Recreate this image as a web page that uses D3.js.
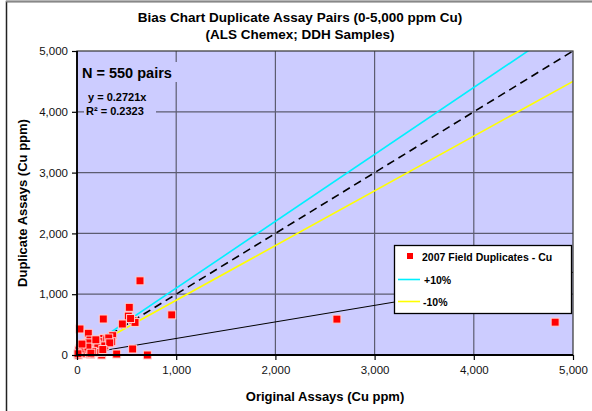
<!DOCTYPE html>
<html><head><meta charset="utf-8">
<script src="https://cdn.jsdelivr.net/npm/d3@7/dist/d3.min.js"></script>
<style>body{margin:0;background:#fff}svg{display:block}text{font-family:"Liberation Sans",Arial,sans-serif}</style>
</head><body><svg id="c" width="592" height="411"></svg>
<script>
const titleLines = ["Bias Chart Duplicate Assay Pairs (0-5,000 ppm Cu)", "(ALS Chemex; DDH Samples)"];
const xTicks = [0, 1000, 2000, 3000, 4000, 5000];
const yTicks = [0, 1000, 2000, 3000, 4000, 5000];
const seriesName = "2007 Field Duplicates - Cu";
const origAssays = [635, 955, 2620, 4820, 527, 265, 517, 565, 457, 585, 540, 30, 114, 360, 265, 232, 131, 98, 181, 350, 30, 561, 13, 138, 249, 400, 709, 60, 80, 150, 200, 170, 120, 300, 320, 90, 45, 210, 280, 20, 70, 160, 240, 330, 10, 110, 190, 50, 140, 260];
const dupAssays  = [1220, 660, 590, 540, 784, 592, 640, 565, 510, 536, 600, 428, 357, 318, 273, 219, 247, 192, 126, 219, 110, 99, 0, 11, 0, 16, 0, 60, 150, 90, 180, 40, 200, 250, 280, 20, 30, 120, 150, 80, 100, 60, 40, 200, 20, 130, 250, 180, 30, 90];
const slope = 0.2721, r2 = 0.2323, nPairs = 550;
const plusPct = 1.1, minusPct = 0.9;

const svg = d3.select("#c");
const W = 592, H = 411;
const m = {l: 77, r: 19, t: 51, b: 56};
const x = d3.scaleLinear().domain([0, 5000]).range([m.l, W - m.r]);
const y = d3.scaleLinear().domain([0, 5000]).range([H - m.b, m.t]);

// outer border
svg.append("rect").attr("x", 6.5).attr("y", 1.5).attr("width", 700).attr("height", 700)
  .attr("fill", "#fff").attr("stroke", "#222").attr("stroke-width", 1.5);
svg.append("line").attr("x1", 6).attr("x2", 592).attr("y1", 1.5).attr("y2", 1.5).attr("stroke", "#888").attr("stroke-width", 1.5);

// plot bg
svg.append("rect").attr("x", x(0)).attr("y", y(5000)).attr("width", x(5000) - x(0)).attr("height", y(0) - y(5000))
  .attr("fill", "#ccccff");

// gridlines
const grid = svg.append("g");
grid.selectAll(".gx").data(xTicks.slice(1, -1)).join("line")
  .attr("x1", d => x(d)).attr("x2", d => x(d)).attr("y1", y(0)).attr("y2", y(5000))
  .attr("stroke", "#5c5c70").attr("stroke-width", 1.2);
grid.selectAll(".gy").data(yTicks.slice(1, -1)).join("line")
  .attr("y1", d => y(d)).attr("y2", d => y(d)).attr("x1", x(0)).attr("x2", x(5000))
  .attr("stroke", "#5c5c70").attr("stroke-width", 1.2);

// text boxes masking gridlines
const noteG = svg.append("g");
noteG.append("rect").attr("x", 80).attr("y", 62).attr("width", 100).attr("height", 20).attr("fill", "#ccccff");
noteG.append("rect").attr("x", 84).attr("y", 88).attr("width", 72).attr("height", 28).attr("fill", "#ccccff");

// clip
svg.append("clipPath").attr("id", "pc").append("rect")
  .attr("x", x(0)).attr("y", y(5000)).attr("width", x(5000) - x(0)).attr("height", y(0) - y(5000));
const lines = svg.append("g").attr("clip-path", "url(#pc)");
const ln = d3.line().x(d => x(d[0])).y(d => y(d[1]));
lines.append("path").attr("d", ln([[0, 0], [5000, 5000 * slope]])).attr("stroke", "#000").attr("stroke-width", 1).attr("fill", "none");
lines.append("path").attr("d", ln([[0, 0], [5000, 5000 * plusPct]])).attr("stroke", "#00f0ff").attr("stroke-width", 1.6).attr("fill", "none");
lines.append("path").attr("d", ln([[0, 0], [5000, 5000 * minusPct]])).attr("stroke", "#ffff00").attr("stroke-width", 1.6).attr("fill", "none");
lines.append("path").attr("d", ln([[0, 0], [5000, 5000]])).attr("stroke", "#000").attr("stroke-width", 1.6).attr("stroke-dasharray", "8,5").attr("fill", "none");

// points
svg.append("g").selectAll("rect").data(origAssays.map((v, i) => [v, dupAssays[i]])).join("rect")
  .attr("x", d => x(d[0]) - 4).attr("y", d => y(d[1]) - 4).attr("width", 8).attr("height", 8)
  .attr("fill", "#ff0000").attr("stroke", "#ffd0d0").attr("stroke-width", 1);

// plot border
svg.append("rect").attr("x", x(0)).attr("y", y(5000)).attr("width", x(5000) - x(0)).attr("height", y(0) - y(5000))
  .attr("fill", "none").attr("stroke", "#333").attr("stroke-width", 1.2);
svg.append("line").attr("x1", x(0)).attr("x2", x(5000)).attr("y1", y(0)).attr("y2", y(0)).attr("stroke", "#000").attr("stroke-width", 1.8);
svg.append("line").attr("x1", x(0)).attr("x2", x(0)).attr("y1", y(0)).attr("y2", y(5000)).attr("stroke", "#000").attr("stroke-width", 1.8);

// axes
const xa = svg.append("g").attr("transform", `translate(0,${y(0)})`)
  .call(d3.axisBottom(x).tickValues(xTicks).tickFormat(d3.format(",")).tickSize(5).tickPadding(6));
const ya = svg.append("g").attr("transform", `translate(${x(0)},0)`)
  .call(d3.axisLeft(y).tickValues(yTicks).tickFormat(d3.format(",")).tickSize(5).tickPadding(4));
[xa, ya].forEach(a => {
  a.select(".domain").remove();
  a.selectAll("line").attr("stroke", "#000").attr("stroke-width", 1.2);
  a.selectAll("text").attr("font-size", 11.5).attr("fill", "#111").attr("font-family", '"Liberation Sans",Arial,sans-serif');
});

// titles
svg.append("text").attr("x", 300).attr("y", 22).attr("text-anchor", "middle").attr("font-size", 13.5).attr("font-weight", "bold").text(titleLines[0]);
svg.append("text").attr("x", 300).attr("y", 39).attr("text-anchor", "middle").attr("font-size", 13.5).attr("font-weight", "bold").text(titleLines[1]);
svg.append("text").attr("x", 325).attr("y", 401).attr("text-anchor", "middle").attr("font-size", 13).attr("font-weight", "bold").text("Original Assays (Cu ppm)");
svg.append("text").attr("transform", "translate(27,203) rotate(-90)").attr("text-anchor", "middle").attr("font-size", 13).attr("font-weight", "bold").text("Duplicate Assays (Cu ppm)");

// annotations
noteG.append("text").attr("x", 82).attr("y", 78).attr("font-size", 14.5).attr("font-weight", "bold").text(`N = ${nPairs} pairs`);
noteG.append("text").attr("x", 88).attr("y", 101).attr("font-size", 11).attr("font-weight", "bold").text(`y = ${slope}x`);
noteG.append("text").attr("x", 86).attr("y", 115).attr("font-size", 11).attr("font-weight", "bold").text(`R² = ${r2}`);

// legend
const lg = svg.append("g");
lg.append("rect").attr("x", 394.5).attr("y", 245.5).attr("width", 177).attr("height", 68).attr("fill", "#fff").attr("stroke", "#000").attr("stroke-width", 1.3);
lg.append("rect").attr("x", 407).attr("y", 253).attr("width", 6).attr("height", 6).attr("fill", "#ff0000");
lg.append("text").attr("x", 422).attr("y", 261).attr("font-size", 10.5).attr("font-weight", "bold").text(seriesName);
lg.append("line").attr("x1", 398).attr("x2", 420).attr("y1", 279.5).attr("y2", 279.5).attr("stroke", "#00f0ff").attr("stroke-width", 1.6);
lg.append("text").attr("x", 424).attr("y", 284).attr("font-size", 10.5).attr("font-weight", "bold").text("+10%");
lg.append("line").attr("x1", 398).attr("x2", 420).attr("y1", 301.5).attr("y2", 301.5).attr("stroke", "#ffff00").attr("stroke-width", 1.6);
lg.append("text").attr("x", 423).attr("y", 306).attr("font-size", 10.5).attr("font-weight", "bold").text("-10%");
</script></body></html>
